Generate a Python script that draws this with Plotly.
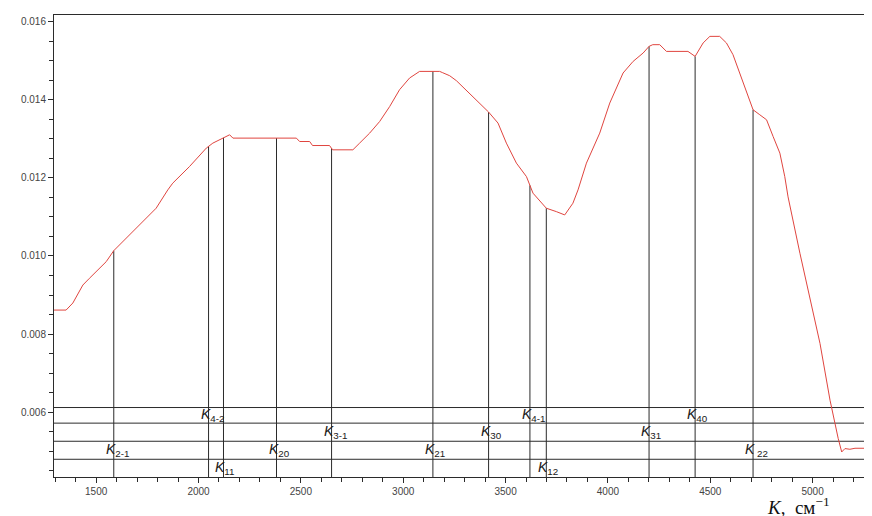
import numpy as np
import plotly.graph_objects as go

# spectrum
wavenumber = [1293, 1353, 1386, 1435, 1467, 1549, 1586, 1630, 1712, 1793, 1850, 1874, 1956,
              2038, 2070, 2119, 2152, 2168, 2478, 2494, 2543, 2557, 2640, 2655, 2754, 2787,
              2836, 2885, 2934, 2982, 3031, 3080, 3178, 3193, 3227, 3260, 3341, 3417, 3463,
              3504, 3553, 3602, 3634, 3699, 3748, 3789, 3829, 3854, 3895, 3960, 4009, 4074,
              4123, 4172, 4201, 4219, 4253, 4286, 4391, 4426, 4465, 4498, 4546, 4579, 4611,
              4644, 4677, 4709, 4742, 4775, 4807, 4840, 4864, 4880, 4938, 4987, 5036, 5085,
              5101, 5125, 5142, 5158, 5182, 5207, 5251]
absorbance = [0.008615, 0.008615, 0.008795, 0.009256, 0.009428, 0.009854, 0.010136, 0.010367,
              0.010795, 0.011223, 0.011692, 0.011864, 0.012290, 0.012762, 0.012890, 0.013018,
              0.013103, 0.013018, 0.013018, 0.012931, 0.012931, 0.012828, 0.012828, 0.012718,
              0.012718, 0.012890, 0.013146, 0.013444, 0.013828, 0.014256, 0.014556, 0.014726,
              0.014726, 0.014692, 0.014615, 0.014487, 0.014085, 0.013685, 0.013403, 0.012890,
              0.012377, 0.012033, 0.011608, 0.011223, 0.011136, 0.011051, 0.011351, 0.011692,
              0.012377, 0.013146, 0.013915, 0.014685, 0.014982, 0.015197, 0.015367, 0.015410,
              0.015410, 0.015238, 0.015238, 0.015110, 0.015454, 0.015623, 0.015623, 0.015454,
              0.015154, 0.014685, 0.014172, 0.013744, 0.013615, 0.013487, 0.013059, 0.012633,
              0.012033, 0.011513, 0.010069, 0.008872, 0.007762, 0.006308, 0.005879, 0.005326,
              0.004982, 0.005069, 0.005051, 0.005077, 0.005077]

# marked transitions: subscript, position, label band
line_names = ["2-1", "4-2", "11", "20", "3-1", "21", "30", "4-1", "12", "31", "40", " 22"]
line_pos = [1586, 2049, 2122, 2381, 2650, 3145, 3417, 3619, 3699, 4201, 4426, 4709]
line_band = [2, 0, 3, 2, 1, 2, 1, 0, 3, 1, 0, 2]
levels = [0.00612, 0.00572, 0.005256, 0.004795]

x_range = [1294, 5251]
y_range = [0.004341, 0.01617]

RED = "#e0453f"
INK = "#2b2b2b"

fig = go.Figure()

# horizontal level lines
hx, hy = [], []
for lv in levels:
    hx += [x_range[0], x_range[1], None]
    hy += [lv, lv, None]
fig.add_trace(go.Scatter(x=hx, y=hy, mode="lines", line=dict(color=INK, width=1),
                         hoverinfo="skip", showlegend=False))

# vertical lines from the axis up to the curve
tops = np.interp(line_pos, wavenumber, absorbance)
vx, vy = [], []
for k, t in zip(line_pos, tops):
    vx += [k, k, None]
    vy += [y_range[0], t, None]
fig.add_trace(go.Scatter(x=vx, y=vy, mode="lines", line=dict(color=INK, width=1),
                         hoverinfo="skip", showlegend=False))

fig.add_trace(go.Scatter(x=wavenumber, y=absorbance, mode="lines",
                         line=dict(color=RED, width=1), showlegend=False))

# labels sit in the bands between level lines
edges = levels + [y_range[0]]
band_mid = [(edges[i] + edges[i + 1]) / 2 for i in range(len(levels))]
lab_font = dict(family="Liberation Sans, Arial, sans-serif", size=14, color="#1a1a1a")
for name, k, b in zip(line_names, line_pos, line_band):
    fig.add_annotation(x=k, y=band_mid[b], text=f"<i>K</i><sub>{name}</sub>",
                       showarrow=False, xanchor="left", yanchor="middle", xshift=-10,
                       font=lab_font)

fig.add_annotation(x=wavenumber[0], y=0.00831, text="<i>K</i><sub>10</sub>",
                   showarrow=False, xanchor="left", yanchor="middle", xshift=2, font=lab_font)

fig.add_annotation(xref="paper", yref="paper", x=0.878, y=-0.062,
                   text="<i>K</i>,  см<sup>−1</sup>", showarrow=False,
                   xanchor="left", yanchor="middle",
                   font=dict(family="Liberation Serif, Times New Roman, serif", size=19,
                             color="#111"))

tick_font = dict(family="Liberation Sans, Arial, sans-serif", size=10, color="#444")
fig.update_xaxes(range=x_range, tickmode="linear", tick0=0, dtick=500,
                 ticks="outside", ticklen=5, tickcolor=INK, showgrid=False, zeroline=False,
                 showline=True, linecolor=INK, linewidth=1, mirror=True,
                 tickfont=tick_font,
                 minor=dict(dtick=100, ticks="outside", ticklen=4, tickcolor=INK, showgrid=False))
fig.update_yaxes(range=y_range, tickmode="linear", tick0=0, dtick=0.002, tickformat=".3f",
                 ticks="outside", ticklen=5, tickcolor=INK, showgrid=False, zeroline=False,
                 showline=True, linecolor=INK, linewidth=1, mirror=True,
                 tickfont=tick_font,
                 minor=dict(dtick=0.0005, ticks="outside", ticklen=4, tickcolor=INK, showgrid=False))

# page body adds an 8px margin, so the figure is sized to fit inside the window
fig.update_layout(width=864, height=508, margin=dict(l=46, r=8, t=7, b=39),
                  plot_bgcolor="white", paper_bgcolor="white")

fig.write_html("out.html")
